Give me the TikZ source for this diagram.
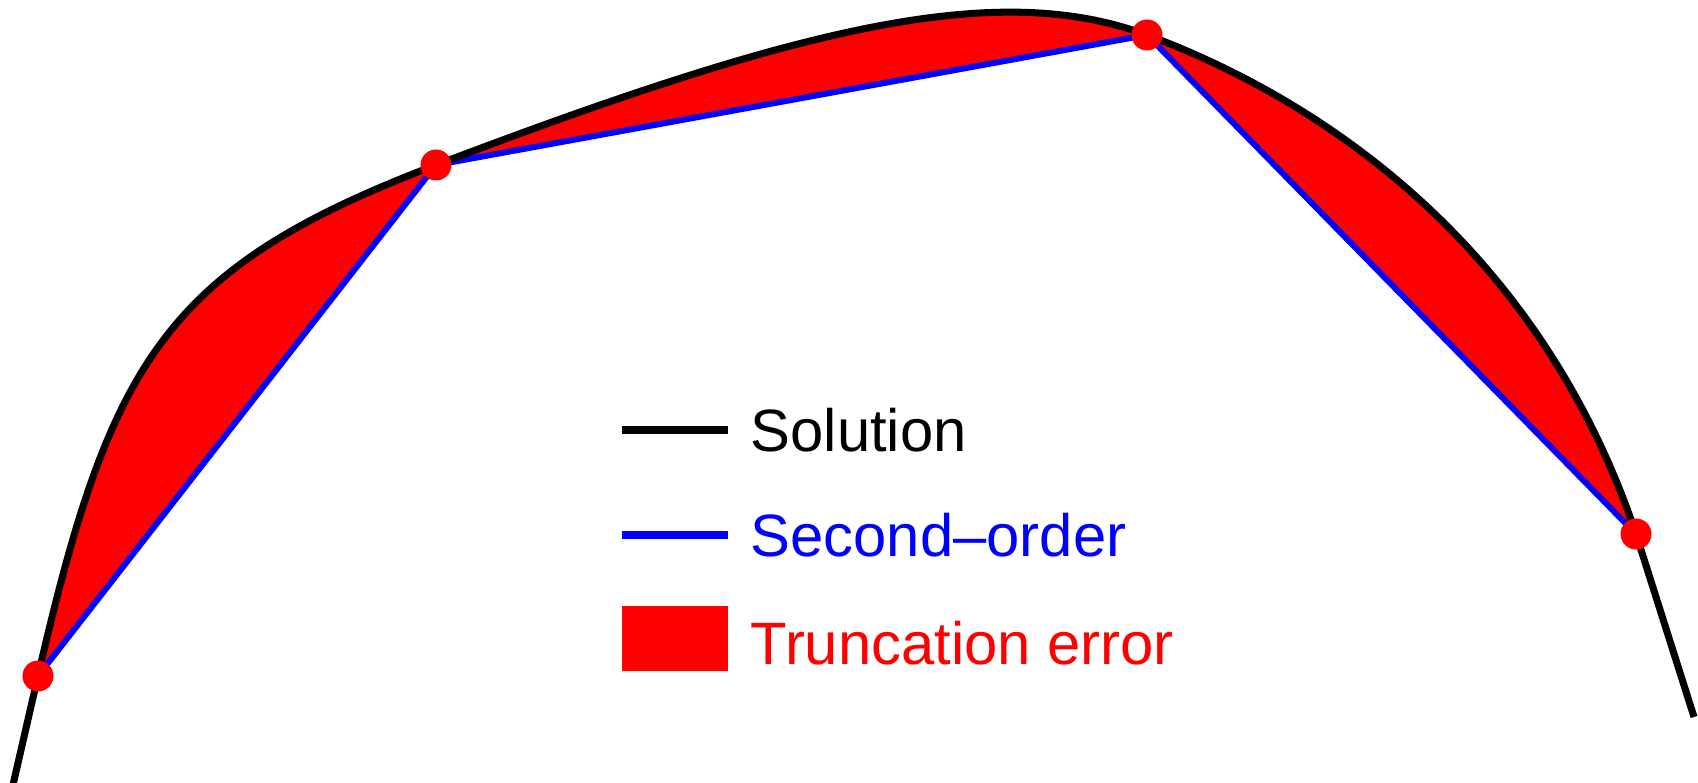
\documentclass[tikz,border=0pt]{standalone}
\usepackage{fontspec}
\setmainfont{Liberation Sans}
\begin{document}
\begin{tikzpicture}[x=0.01cm,y=-0.01cm,
  solline/.style={line width=2pt,black},
  approx/.style={line width=1.7pt,blue,line join=round},
  errfill/.style={fill=red,draw=none},
  pt/.style={circle,fill=red,draw=none,inner sep=0pt,minimum size=0.31cm},
  lab/.style={anchor=base west,inner sep=0pt,font=\fontsize{17pt}{20pt}\selectfont}]
\useasboundingbox (0,0) rectangle (1698,783);
% curve key points
\coordinate (E0) at (11.8,790);
\coordinate (A) at (38,676);
\coordinate (B) at (436,165);
\coordinate (C) at (1147,35);
\coordinate (D) at (1636,534);
\coordinate (E1) at (1694,717);
% truncation error regions
\fill[errfill] (A) .. controls (110.6,360.6) and (165.5,267.8) .. (B) -- cycle;
\fill[errfill] (B) .. controls (802.9,25.6) and (997.5,-20.3) .. (C) -- cycle;
\fill[errfill] (C) .. controls (1293.6,89.2) and (1532,225.1) .. (D) -- cycle;
% second-order approximation
\draw[approx] (A) -- (B) -- (C) -- (D);
% solution
\draw[solline] (E0) -- (A) .. controls (110.6,360.6) and (165.5,267.8) .. (B)
  .. controls (802.9,25.6) and (997.5,-20.3) .. (C)
  .. controls (1293.6,89.2) and (1532,225.1) .. (D) -- (E1);
% points
\node[pt] (nA) at (A) {};
\node[pt] (nB) at (B) {};
\node[pt] (nC) at (C) {};
\node[pt] (nD) at (D) {};
% legend
\coordinate (l1a) at (622,430); \coordinate (l1b) at (728,430);
\coordinate (l2a) at (622,535); \coordinate (l2b) at (728,535);
\draw[solline] (l1a) -- (l1b);
\draw[approx,line width=2pt] (l2a) -- (l2b);
\fill[errfill] (622,606) rectangle (728,671);
\node[lab] (t1) at (750,452) {Solution};
\node[lab,text=blue] (t2) at (750,557) {Second–order};
\node[lab,text=red] (t3) at (750,664) {Truncation error};
\end{tikzpicture}
\end{document}
